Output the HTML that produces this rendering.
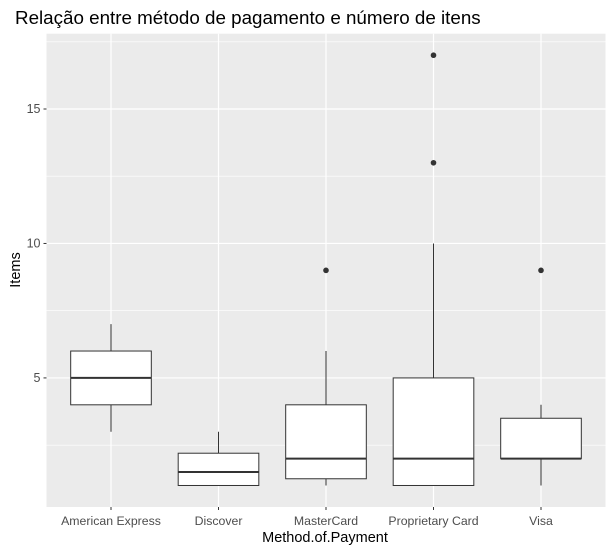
<!DOCTYPE html>
<html><head><meta charset="utf-8"><style>
body{margin:0;background:#fff;}
svg{display:block;font-family:"Liberation Sans",Arial,sans-serif;}
</style></head><body>
<svg id="chart" width="613" height="552" xmlns="http://www.w3.org/2000/svg">
<text x="15" y="24" font-size="18.8" fill="#000">Relação entre método de pagamento e número de itens</text>
<rect x="46.5" y="33.7" width="559" height="473.3" fill="#ebebeb"/>
<g id="grid"></g>
<g id="boxes"></g>
<g id="axes"></g>
<text x="325" y="542" font-size="14.5" text-anchor="middle" fill="#000">Method.of.Payment</text>
<text transform="translate(20,270) rotate(-90)" font-size="14.5" text-anchor="middle" fill="#000">Items</text>
</svg>
<script>
const categories=["American Express","Discover","MasterCard","Proprietary Card","Visa"];
const whiskerLow=[3,1,1,1,1];
const q1=[4,1,1.25,1,2];
const medians=[5,1.5,2,2,2];
const q3=[6,2.2,4,5,3.5];
const whiskerHigh=[7,3,6,10,4];
const outliers=[[],[],[9],[13,17],[9]];
const yTicks=[5,10,15];
const yMinor=[2.5,7.5,12.5,17.5];

const NS="http://www.w3.org/2000/svg";
const pTop=33.7,pBot=507,pL=46.5,pR=605.5;
const yMin=0.2,yMax=17.8;
function y(v){return pBot-(v-yMin)/(yMax-yMin)*(pBot-pTop);}
const step=(pR-pL)/(categories.length+0.2);
function x(i){return pL+(i+0.6)*step;}
function mk(tag,attrs,parent){const e=document.createElementNS(NS,tag);for(const k in attrs)e.setAttribute(k,attrs[k]);parent.appendChild(e);return e;}
const grid=document.getElementById('grid'),boxes=document.getElementById('boxes'),axes=document.getElementById('axes');
yMinor.forEach(v=>{const l=mk('line',{x1:pL,x2:pR,y1:y(v),y2:y(v),stroke:'#fff','stroke-width':0.6},grid);

});
yTicks.forEach(v=>{const l=mk('line',{x1:pL,x2:pR,y1:y(v),y2:y(v),stroke:'#fff','stroke-width':1.2},grid);


const tk=mk('line',{x1:pL-3,x2:pL,y1:y(v),y2:y(v),stroke:'#333','stroke-width':1},axes);


const t=mk('text',{x:pL-6,y:y(v)+4,'font-size':12.5,'text-anchor':'end',fill:'#4d4d4d'},axes);t.textContent=v;

});
const bw=step*0.75;
categories.forEach((c,i)=>{const cx=x(i);
const g=mk('line',{x1:cx,x2:cx,y1:pTop,y2:pBot,stroke:'#fff','stroke-width':1.2},grid);


const tk=mk('line',{x1:cx,x2:cx,y1:pBot,y2:pBot+3,stroke:'#333','stroke-width':1},axes);


const t=mk('text',{x:cx,y:pBot+18,'font-size':12.3,'text-anchor':'middle',fill:'#4d4d4d'},axes);t.textContent=c;


const w1=mk('line',{x1:cx,x2:cx,y1:y(q3[i]),y2:y(whiskerHigh[i]),stroke:'#333','stroke-width':1},boxes);


const w2=mk('line',{x1:cx,x2:cx,y1:y(q1[i]),y2:y(whiskerLow[i]),stroke:'#333','stroke-width':1},boxes);


const b=mk('rect',{x:cx-bw/2,y:y(q3[i]),width:bw,height:y(q1[i])-y(q3[i]),fill:'#fff',stroke:'#333','stroke-width':1},boxes);


const m=mk('line',{x1:cx-bw/2,x2:cx+bw/2,y1:y(medians[i]),y2:y(medians[i]),stroke:'#333','stroke-width':2},boxes);


outliers[i].forEach(v=>{const o=mk('circle',{cx:cx,cy:y(v),r:2.8,fill:'#333'},boxes);

});
});
</script>
</body></html>
